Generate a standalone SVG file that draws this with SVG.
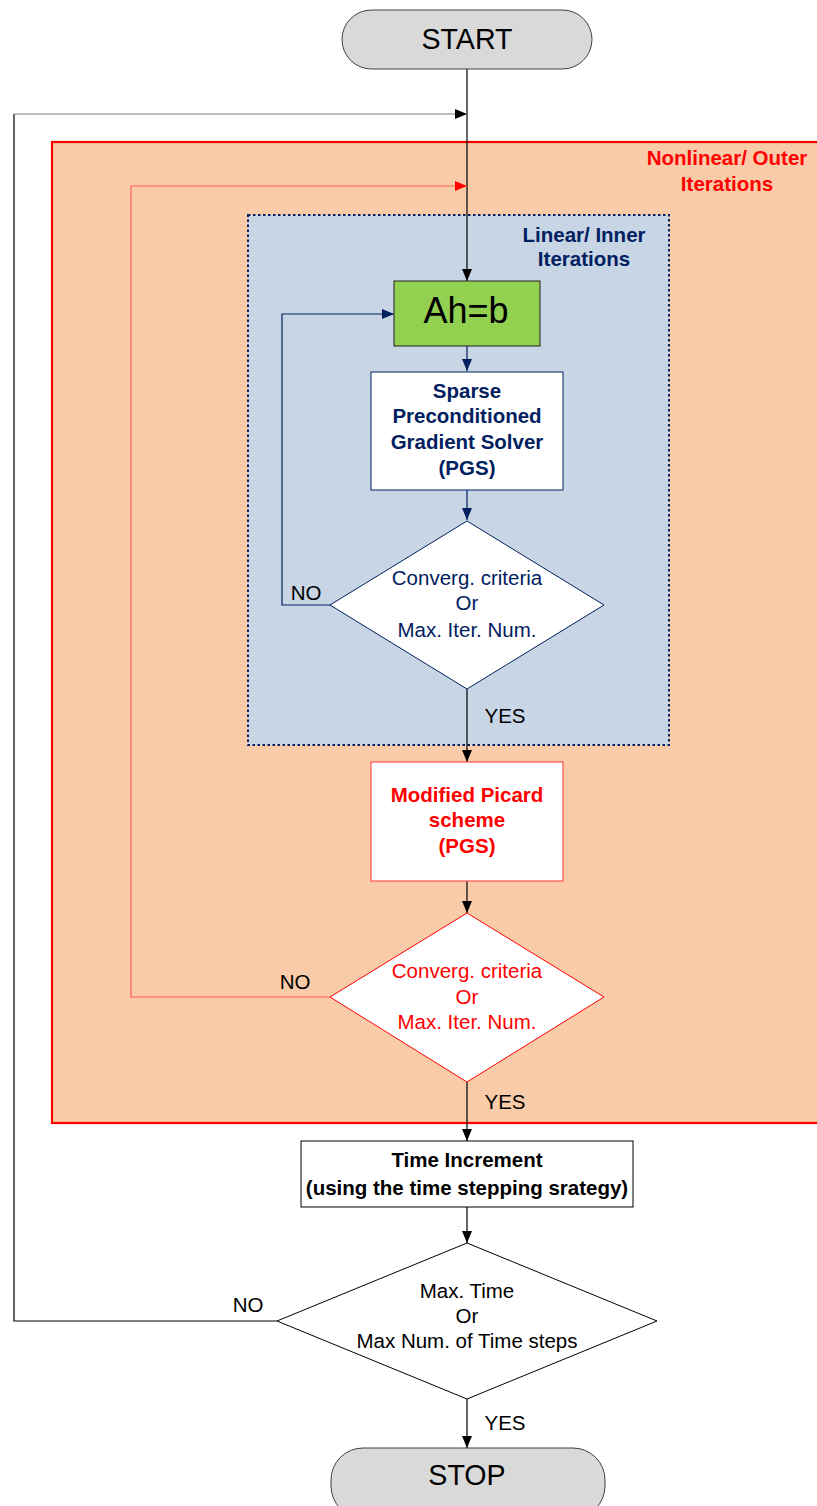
<svg xmlns="http://www.w3.org/2000/svg" width="817" height="1506" viewBox="0 0 817 1506">
<defs>
<style>
text{font-family:"Liberation Sans",Arial,sans-serif;font-size:20.5px;text-anchor:middle}
.b{font-weight:bold}
.navy{fill:#002060}
.red{fill:#ff0000}
.blk{fill:#000}
.term{fill:#d9d9d9;stroke:#404040;stroke-width:1}
.ln{fill:none;stroke-width:1.2}
</style>
<marker id="ak" markerUnits="userSpaceOnUse" markerWidth="12" markerHeight="12" viewBox="0 0 12 12" refX="12" refY="6" orient="auto"><path d="M0,1 L12,6 L0,11 Z" fill="#000"/></marker>
<marker id="an" markerUnits="userSpaceOnUse" markerWidth="12" markerHeight="12" viewBox="0 0 12 12" refX="12" refY="6" orient="auto"><path d="M0,1 L12,6 L0,11 Z" fill="#002060"/></marker>
<marker id="ar" markerUnits="userSpaceOnUse" markerWidth="12" markerHeight="12" viewBox="0 0 12 12" refX="12" refY="6" orient="auto"><path d="M0,1 L12,6 L0,11 Z" fill="#ff0000"/></marker>
</defs>
<rect width="817" height="1506" fill="#fff"/>

<g id="outer-region">
<rect x="52" y="142" width="775" height="981" fill="#f9cba8" stroke="#ff0000" stroke-width="2.2"/>
<text class="b red" x="727" y="165">Nonlinear/ Outer</text>
<text class="b red" x="727" y="191">Iterations</text>
</g>

<g id="inner-region">
<rect x="248" y="215" width="421" height="530" fill="#c8d5e5" stroke="#002060" stroke-width="2" stroke-dasharray="2.5,2.5"/>
<text class="b navy" x="584" y="242">Linear/ Inner</text>
<text class="b navy" x="584" y="266">Iterations</text>
</g>

<g id="connectors">
<line class="ln" x1="467" y1="69" x2="467" y2="281" stroke="#000" marker-end="url(#ak)"/>
<polyline class="ln" points="277,1321 14,1321 14,114" stroke="#000"/>
<line class="ln" x1="14" y1="114" x2="467" y2="114" stroke="#808080" stroke-width="1.6" marker-end="url(#ak)"/>
<polyline class="ln" points="331,997 131,997 131,186 467,186" stroke="#ff6050" marker-end="url(#ar)"/>
<polyline class="ln" points="331,605 282,605 282,314 394,314" stroke="#002060" marker-end="url(#an)"/>
<line class="ln" x1="467" y1="346" x2="467" y2="371" stroke="#002060" marker-end="url(#an)"/>
<line class="ln" x1="467" y1="490" x2="467" y2="520" stroke="#002060" marker-end="url(#an)"/>
<line class="ln" x1="467" y1="689" x2="467" y2="762" stroke="#000" marker-end="url(#ak)"/>
<line class="ln" x1="467" y1="881" x2="467" y2="913" stroke="#000" marker-end="url(#ak)"/>
<line class="ln" x1="467" y1="1082" x2="467" y2="1141" stroke="#000" marker-end="url(#ak)"/>
<line class="ln" x1="467" y1="1207" x2="467" y2="1243" stroke="#000" marker-end="url(#ak)"/>
<line class="ln" x1="467" y1="1399" x2="467" y2="1448" stroke="#000" marker-end="url(#ak)"/>
<text class="blk" x="306" y="600">NO</text>
<text class="blk" x="505" y="723">YES</text>
<text class="blk" x="295" y="989">NO</text>
<text class="blk" x="505" y="1109">YES</text>
<text class="blk" x="248" y="1312">NO</text>
<text class="blk" x="505" y="1430">YES</text>
</g>

<g id="start">
<rect class="term" x="342" y="10" width="250" height="59" rx="29.5"/>
<text class="blk" x="467" y="49" style="font-size:28.6px">START</text>
</g>

<g id="ahb">
<rect x="394" y="281" width="146" height="65" fill="#92d050" stroke="#202020" stroke-width="1"/>
<text class="blk" x="466" y="323" style="font-size:36px">Ah=b</text>
</g>

<g id="pgs">
<rect x="371" y="372" width="192" height="118" fill="#fff" stroke="#002060" stroke-width="1"/>
<text class="b navy" x="467" y="398">Sparse</text>
<text class="b navy" x="467" y="423">Preconditioned</text>
<text class="b navy" x="467" y="449">Gradient Solver</text>
<text class="b navy" x="467" y="475">(PGS)</text>
</g>

<g id="inner-check">
<polygon points="467,521 604,605 467,689 330,605" fill="#fff" stroke="#002060" stroke-width="1"/>
<text class="navy" x="467" y="585">Converg. criteria</text>
<text class="navy" x="467" y="610">Or</text>
<text class="navy" x="467" y="637">Max. Iter. Num.</text>
</g>

<g id="picard">
<rect x="371" y="762" width="192" height="119" fill="#fff" stroke="#ff5050" stroke-width="1.2"/>
<text class="b red" x="467" y="802">Modified Picard</text>
<text class="b red" x="467" y="827">scheme</text>
<text class="b red" x="467" y="853">(PGS)</text>
</g>

<g id="outer-check">
<polygon points="467,913 604,997 467,1082 330,997" fill="#fff" stroke="#ff0000" stroke-width="1"/>
<text class="red" x="467" y="978">Converg. criteria</text>
<text class="red" x="467" y="1004">Or</text>
<text class="red" x="467" y="1029">Max. Iter. Num.</text>
</g>

<g id="time-increment">
<rect x="301" y="1141" width="332" height="66" fill="#fff" stroke="#000" stroke-width="1"/>
<text class="b blk" x="467" y="1167">Time Increment</text>
<text class="b blk" x="467" y="1195">(using the time stepping srategy)</text>
</g>

<g id="time-check">
<polygon points="467,1243 657,1321 467,1399 277,1321" fill="#fff" stroke="#000" stroke-width="1"/>
<text class="blk" x="467" y="1298">Max. Time</text>
<text class="blk" x="467" y="1323">Or</text>
<text class="blk" x="467" y="1348">Max Num. of Time steps</text>
</g>

<g id="stop">
<rect class="term" x="331" y="1448" width="274" height="70" rx="32"/>
<text class="blk" x="467" y="1485" style="font-size:28.6px">STOP</text>
</g>
</svg>
